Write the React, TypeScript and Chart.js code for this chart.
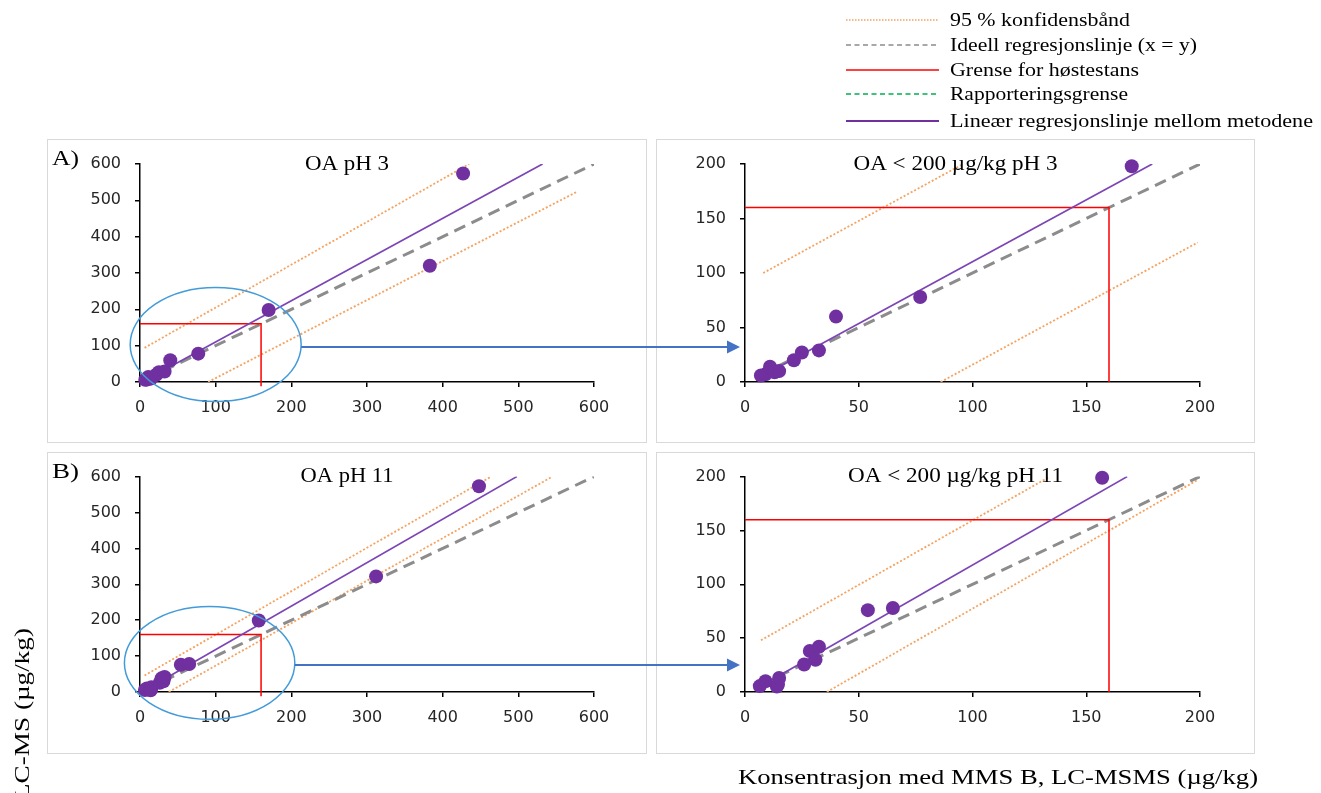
import React, { useEffect, useRef, useState } from 'react';
import { Chart, registerables } from 'chart.js';

Chart.register(...registerables);

// ---------- data (µg/kg) ----------
// pH 3 : x = MMS B (LC-MSMS), y = MMS A (LC-MS)
const phA_x = [7, 9, 11, 13, 15, 21.5, 25, 32.5, 40, 77, 170, 383, 427];
const phA_y = [6, 7, 14, 9, 10, 20, 27, 29, 60, 78, 198, 320, 574];
// pH 11
const phB_x = [6.5, 9, 14, 14.5, 15, 26, 28.5, 31, 32.5, 54, 65, 157, 312, 448];
const phB_y = [5.5, 10, 5, 7, 13, 25.5, 38, 30, 42, 76, 78, 199, 322, 573];

// linear regression lines between the methods
const regA_full_x = [7, 532];
const regA_full_y = [4.8, 600];
const regA_zoom_x = [7, 179];
const regA_zoom_y = [4.8, 200];
const regB_full_x = [6.5, 498];
const regB_full_y = [4.9, 600];
const regB_zoom_x = [6.5, 168];
const regB_zoom_y = [4.9, 200];

// ideal line x = y
const ideal_full = [8, 600];
const ideal_zoom = [7, 200];

// 95 % confidence bands
const bandA_full_up_x = [6, 435];
const bandA_full_up_y = [94, 600];
const bandA_full_lo_x = [90, 577];
const bandA_full_lo_y = [0, 523];
const bandA_zoom_up_x = [8, 95];
const bandA_zoom_up_y = [100, 199];
const bandA_zoom_lo_x = [86, 199];
const bandA_zoom_lo_y = [0, 128];
const bandB_full_up_x = [6, 464];
const bandB_full_up_y = [46, 600];
const bandB_full_lo_x = [38, 545];
const bandB_full_lo_y = [0, 600];
const bandB_zoom_up_x = [7, 134];
const bandB_zoom_up_y = [48, 200];
const bandB_zoom_lo_x = [36, 199];
const bandB_zoom_lo_y = [0, 197];

// limit for harvest stop (160 µg/kg)
const limit = 160;
const limit_full_x = [0, limit, limit];
const limit_full_y = [limit, limit, -12];
const limit_zoom_x = [0, limit, limit];
const limit_zoom_y = [limit, limit, 0];

// axis ticks
const fullTicks = { max: 600, step: 100 };
const zoomTicks = { max: 200, step: 50 };

// ellipse marking the zoomed region (data units) and arrow level
const ellipseA = { cx: 100, cy: 103, rx: 113, ry: 157, arrowY: 96 };
const ellipseB = { cx: 92, cy: 81, rx: 112.6, ry: 157, arrowY: 75 };

const titles = ['OA pH 3', 'OA < 200 µg/kg pH 3', 'OA pH 11', 'OA < 200 µg/kg pH 11'];

const legendItems = [
  '95 % konfidensbånd',
  'Ideell regresjonslinje (x = y)',
  'Grense for høstestans',
  'Rapporteringsgrense',
  'Lineær regresjonslinje mellom metodene',
];

// ---------- styles ----------
const PURPLE = '#7030a0';
const REG = '#7b45b5';
const GRAY = '#8c8c8c';
const ORANGE = '#f5a361';
const RED = '#ff0000';
const GREEN = '#00b050';
const BLUE_ELL = '#439bd9';
const BLUE_ARROW = '#4472c4';
const SERIF = '"Liberation Serif", "Times New Roman", serif';

const pts = (xs: number[], ys: number[]) => xs.map((x, i) => ({ x, y: ys[i] }));

type Panel = {
  frame: { left: number; top: number; width: number; height: number };
  canvasW: number;
  canvasH: number;
  ticks: { max: number; step: number };
  yW: number;
  padR: number;
  padT: number;
  xH: number;
  title: string;
  titleW: number;
  titleY: number;
  xs: number[];
  ys: number[];
  reg: [number[], number[]];
  ideal: number[];
  up: [number[], number[]];
  lo: [number[], number[]];
  lim: [number[], number[]];
  ellipse?: typeof ellipseA;
};

const panels: Panel[] = [
  {
    frame: { left: 47, top: 139, width: 600, height: 304 },
    canvasW: 598, canvasH: 302, ticks: fullTicks, yW: 92, padR: 52, padT: 24, xH: 60,
    title: titles[0], titleW: 84, titleY: 30,
    xs: phA_x, ys: phA_y, reg: [regA_full_x, regA_full_y], ideal: ideal_full,
    up: [bandA_full_up_x, bandA_full_up_y], lo: [bandA_full_lo_x, bandA_full_lo_y],
    lim: [limit_full_x, limit_full_y], ellipse: ellipseA,
  },
  {
    frame: { left: 656, top: 139, width: 599, height: 304 },
    canvasW: 597, canvasH: 302, ticks: zoomTicks, yW: 88, padR: 54, padT: 24, xH: 60,
    title: titles[1], titleW: 204, titleY: 30,
    xs: phA_x, ys: phA_y, reg: [regA_zoom_x, regA_zoom_y], ideal: ideal_zoom,
    up: [bandA_zoom_up_x, bandA_zoom_up_y], lo: [bandA_zoom_lo_x, bandA_zoom_lo_y],
    lim: [limit_zoom_x, limit_zoom_y],
  },
  {
    frame: { left: 47, top: 452, width: 600, height: 302 },
    canvasW: 598, canvasH: 300, ticks: fullTicks, yW: 92, padR: 52, padT: 22, xH: 61,
    title: titles[2], titleW: 93, titleY: 29,
    xs: phB_x, ys: phB_y, reg: [regB_full_x, regB_full_y], ideal: ideal_full,
    up: [bandB_full_up_x, bandB_full_up_y], lo: [bandB_full_lo_x, bandB_full_lo_y],
    lim: [limit_full_x, limit_full_y], ellipse: ellipseB,
  },
  {
    frame: { left: 656, top: 452, width: 599, height: 302 },
    canvasW: 597, canvasH: 300, ticks: zoomTicks, yW: 88, padR: 54, padT: 22, xH: 61,
    title: titles[3], titleW: 215, titleY: 29,
    xs: phB_x, ys: phB_y, reg: [regB_zoom_x, regB_zoom_y], ideal: ideal_zoom,
    up: [bandB_zoom_up_x, bandB_zoom_up_y], lo: [bandB_zoom_lo_x, bandB_zoom_lo_y],
    lim: [limit_zoom_x, limit_zoom_y],
  },
];

function buildChart(canvas: HTMLCanvasElement, p: Panel) {
  const max = p.ticks.max;
  const visible = pts(p.xs, p.ys).filter((d) => d.x <= max && d.y <= max);
  const tickFont = { family: '"DejaVu Sans", Verdana, sans-serif', size: 16 };

  const titlePlugin = {
    id: 'panelTitle',
    afterDraw(chart: any) {
      const ctx = chart.ctx;
      ctx.save();
      ctx.font = `21px ${SERIF}`;
      const w = ctx.measureText(p.title).width;
      ctx.translate(chart.width / 2, p.titleY);
      ctx.scale(p.titleW / w, 1);
      ctx.textAlign = 'center';
      ctx.textBaseline = 'alphabetic';
      ctx.fillStyle = '#000';
      ctx.fillText(p.title, 0, 0);
      ctx.restore();
    },
  };

  const ellipsePlugin = {
    id: 'zoomEllipse',
    afterDatasetsDraw(chart: any) {
      const e = p.ellipse;
      if (!e) return;
      const xs = chart.scales.x;
      const ys = chart.scales.y;
      const cx = xs.getPixelForValue(e.cx);
      const cy = ys.getPixelForValue(e.cy);
      const rx = xs.getPixelForValue(e.cx + e.rx) - cx;
      const ry = cy - ys.getPixelForValue(e.cy + e.ry);
      const ctx = chart.ctx;
      ctx.save();
      ctx.beginPath();
      ctx.ellipse(cx, cy, rx, ry, 0, 0, Math.PI * 2);
      ctx.strokeStyle = BLUE_ELL;
      ctx.lineWidth = 1.5;
      ctx.stroke();
      ctx.restore();
    },
  };

  const lineDs = (label: string, data: any[], extra: any) => ({
    label,
    data,
    showLine: true,
    pointRadius: 0,
    pointHoverRadius: 0,
    fill: false,
    tension: 0,
    ...extra,
  });

  const axis = (isX: boolean) => ({
    type: 'linear',
    min: 0,
    max,
    afterFit: (s: any) => {
      if (isX) s.height = p.xH;
      else s.width = p.yW;
    },
    ticks: { stepSize: p.ticks.step, font: tickFont, color: '#262626', padding: isX ? 11 : 14 },
    grid: { drawOnChartArea: false, drawTicks: true, tickLength: 5, color: '#000', lineWidth: 1.5 },
    border: { color: '#000', width: 1.5 },
  });

  return new Chart(canvas, {
    type: 'scatter',
    data: {
      datasets: [
        {
          label: 'OA',
          data: visible,
          showLine: false,
          pointRadius: 7,
          pointHoverRadius: 7,
          pointBorderWidth: 0,
          backgroundColor: PURPLE,
          borderColor: PURPLE,
          clip: false,
        },
        lineDs(legendItems[4], pts(p.reg[0], p.reg[1]), { borderColor: REG, borderWidth: 1.7 }),
        lineDs(legendItems[2], pts(p.lim[0], p.lim[1]), { borderColor: RED, borderWidth: 1.5, clip: false }),
        lineDs(legendItems[1], pts(p.ideal, p.ideal), { borderColor: GRAY, borderWidth: 3, borderDash: [12, 7] }),
        lineDs(legendItems[0], pts(p.up[0], p.up[1]), { borderColor: ORANGE, borderWidth: 1.8, borderDash: [2, 2] }),
        lineDs(legendItems[0] + ' ', pts(p.lo[0], p.lo[1]), { borderColor: ORANGE, borderWidth: 1.8, borderDash: [2, 2] }),
      ],
    },
    options: {
      responsive: false,
      animation: false,
      devicePixelRatio: 1,
      events: [],
      layout: { padding: { left: 0, right: p.padR, top: p.padT, bottom: 0 } },
      plugins: {
        legend: { display: false },
        tooltip: { enabled: false },
        title: { display: false },
      },
      scales: { x: axis(true), y: axis(false) },
    } as any,
    plugins: [ellipsePlugin, titlePlugin],
  } as any);
}

type Arrow = { x1: number; x2: number; y: number };

export default function App() {
  const refs = [useRef<HTMLCanvasElement>(null), useRef<HTMLCanvasElement>(null), useRef<HTMLCanvasElement>(null), useRef<HTMLCanvasElement>(null)];
  const [arrows, setArrows] = useState<Arrow[]>([]);

  useEffect(() => {
    const charts = panels.map((p, i) => buildChart(refs[i].current as HTMLCanvasElement, p));
    const out: Arrow[] = [];
    [0, 2].forEach((li) => {
      const left = charts[li];
      const right = charts[li + 1];
      const lp = panels[li];
      const rp = panels[li + 1];
      const e = lp.ellipse!;
      const x1 = lp.frame.left + 1 + left.scales.x.getPixelForValue(e.cx + e.rx);
      const y = lp.frame.top + 1 + left.scales.y.getPixelForValue(e.arrowY);
      const x2 = rp.frame.left + 1 + right.scales.x.getPixelForValue(0) - 5;
      out.push({ x1, x2, y });
    });
    setArrows(out);
    return () => charts.forEach((c) => c.destroy());
  }, []);

  const legendRows = [20, 45, 70, 94, 121];
  const legendW = [180, 247, 189, 178, 363];
  const sample = [
    { stroke: ORANGE, w: 1.5, dash: '1.5 1.5' },
    { stroke: GRAY, w: 1.5, dash: '5 3.5' },
    { stroke: RED, w: 1.5, dash: undefined },
    { stroke: GREEN, w: 1.5, dash: '5 3.5' },
    { stroke: PURPLE, w: 2, dash: undefined },
  ];

  return (
    <div style={{ position: 'absolute', left: 0, top: 0, width: 1321, height: 793, overflow: 'hidden', background: '#fff' }}>
      {panels.map((p, i) => (
        <div
          key={i}
          style={{
            position: 'absolute',
            left: p.frame.left,
            top: p.frame.top,
            width: p.frame.width,
            height: p.frame.height,
            boxSizing: 'border-box',
            border: '1px solid #d9d9d9',
            background: '#fff',
          }}
        >
          <canvas ref={refs[i]} width={p.canvasW} height={p.canvasH} style={{ display: 'block', width: p.canvasW, height: p.canvasH }} />
        </div>
      ))}
      <svg width={1321} height={793} style={{ position: 'absolute', left: 0, top: 0, pointerEvents: 'none' }}>
        {/* legend */}
        {legendItems.map((t, i) => (
          <g key={i}>
            <line
              x1={846}
              x2={939}
              y1={legendRows[i]}
              y2={legendRows[i]}
              stroke={sample[i].stroke}
              strokeWidth={sample[i].w}
              strokeDasharray={sample[i].dash}
            />
            <text
              x={950}
              y={legendRows[i] + 6}
              fontFamily={SERIF}
              fontSize={19}
              fill="#000"
              textLength={legendW[i]}
              lengthAdjust="spacingAndGlyphs"
            >
              {t}
            </text>
          </g>
        ))}
        {/* panel letters */}
        <text x={52} y={165} fontFamily={SERIF} fontSize={21} textLength={27} lengthAdjust="spacingAndGlyphs">A)</text>
        <text x={52} y={478} fontFamily={SERIF} fontSize={21} textLength={27} lengthAdjust="spacingAndGlyphs">B)</text>
        {/* axis titles */}
        <text
          transform="translate(29,628) rotate(-90)"
          textAnchor="end"
          fontFamily={SERIF}
          fontSize={21}
          textLength={172}
          lengthAdjust="spacingAndGlyphs"
        >
          LC-MS (µg/kg)
        </text>
        <text x={738} y={784} fontFamily={SERIF} fontSize={21} textLength={520} lengthAdjust="spacingAndGlyphs">
          Konsentrasjon med MMS B, LC-MSMS (µg/kg)
        </text>
        {/* arrows */}
        {arrows.map((a, i) => (
          <g key={i}>
            <line x1={a.x1} x2={a.x2 - 11} y1={a.y} y2={a.y} stroke={BLUE_ARROW} strokeWidth={2} />
            <polygon points={`${a.x2},${a.y} ${a.x2 - 13},${a.y - 6.5} ${a.x2 - 13},${a.y + 6.5}`} fill={BLUE_ARROW} />
          </g>
        ))}
      </svg>
    </div>
  );
}
